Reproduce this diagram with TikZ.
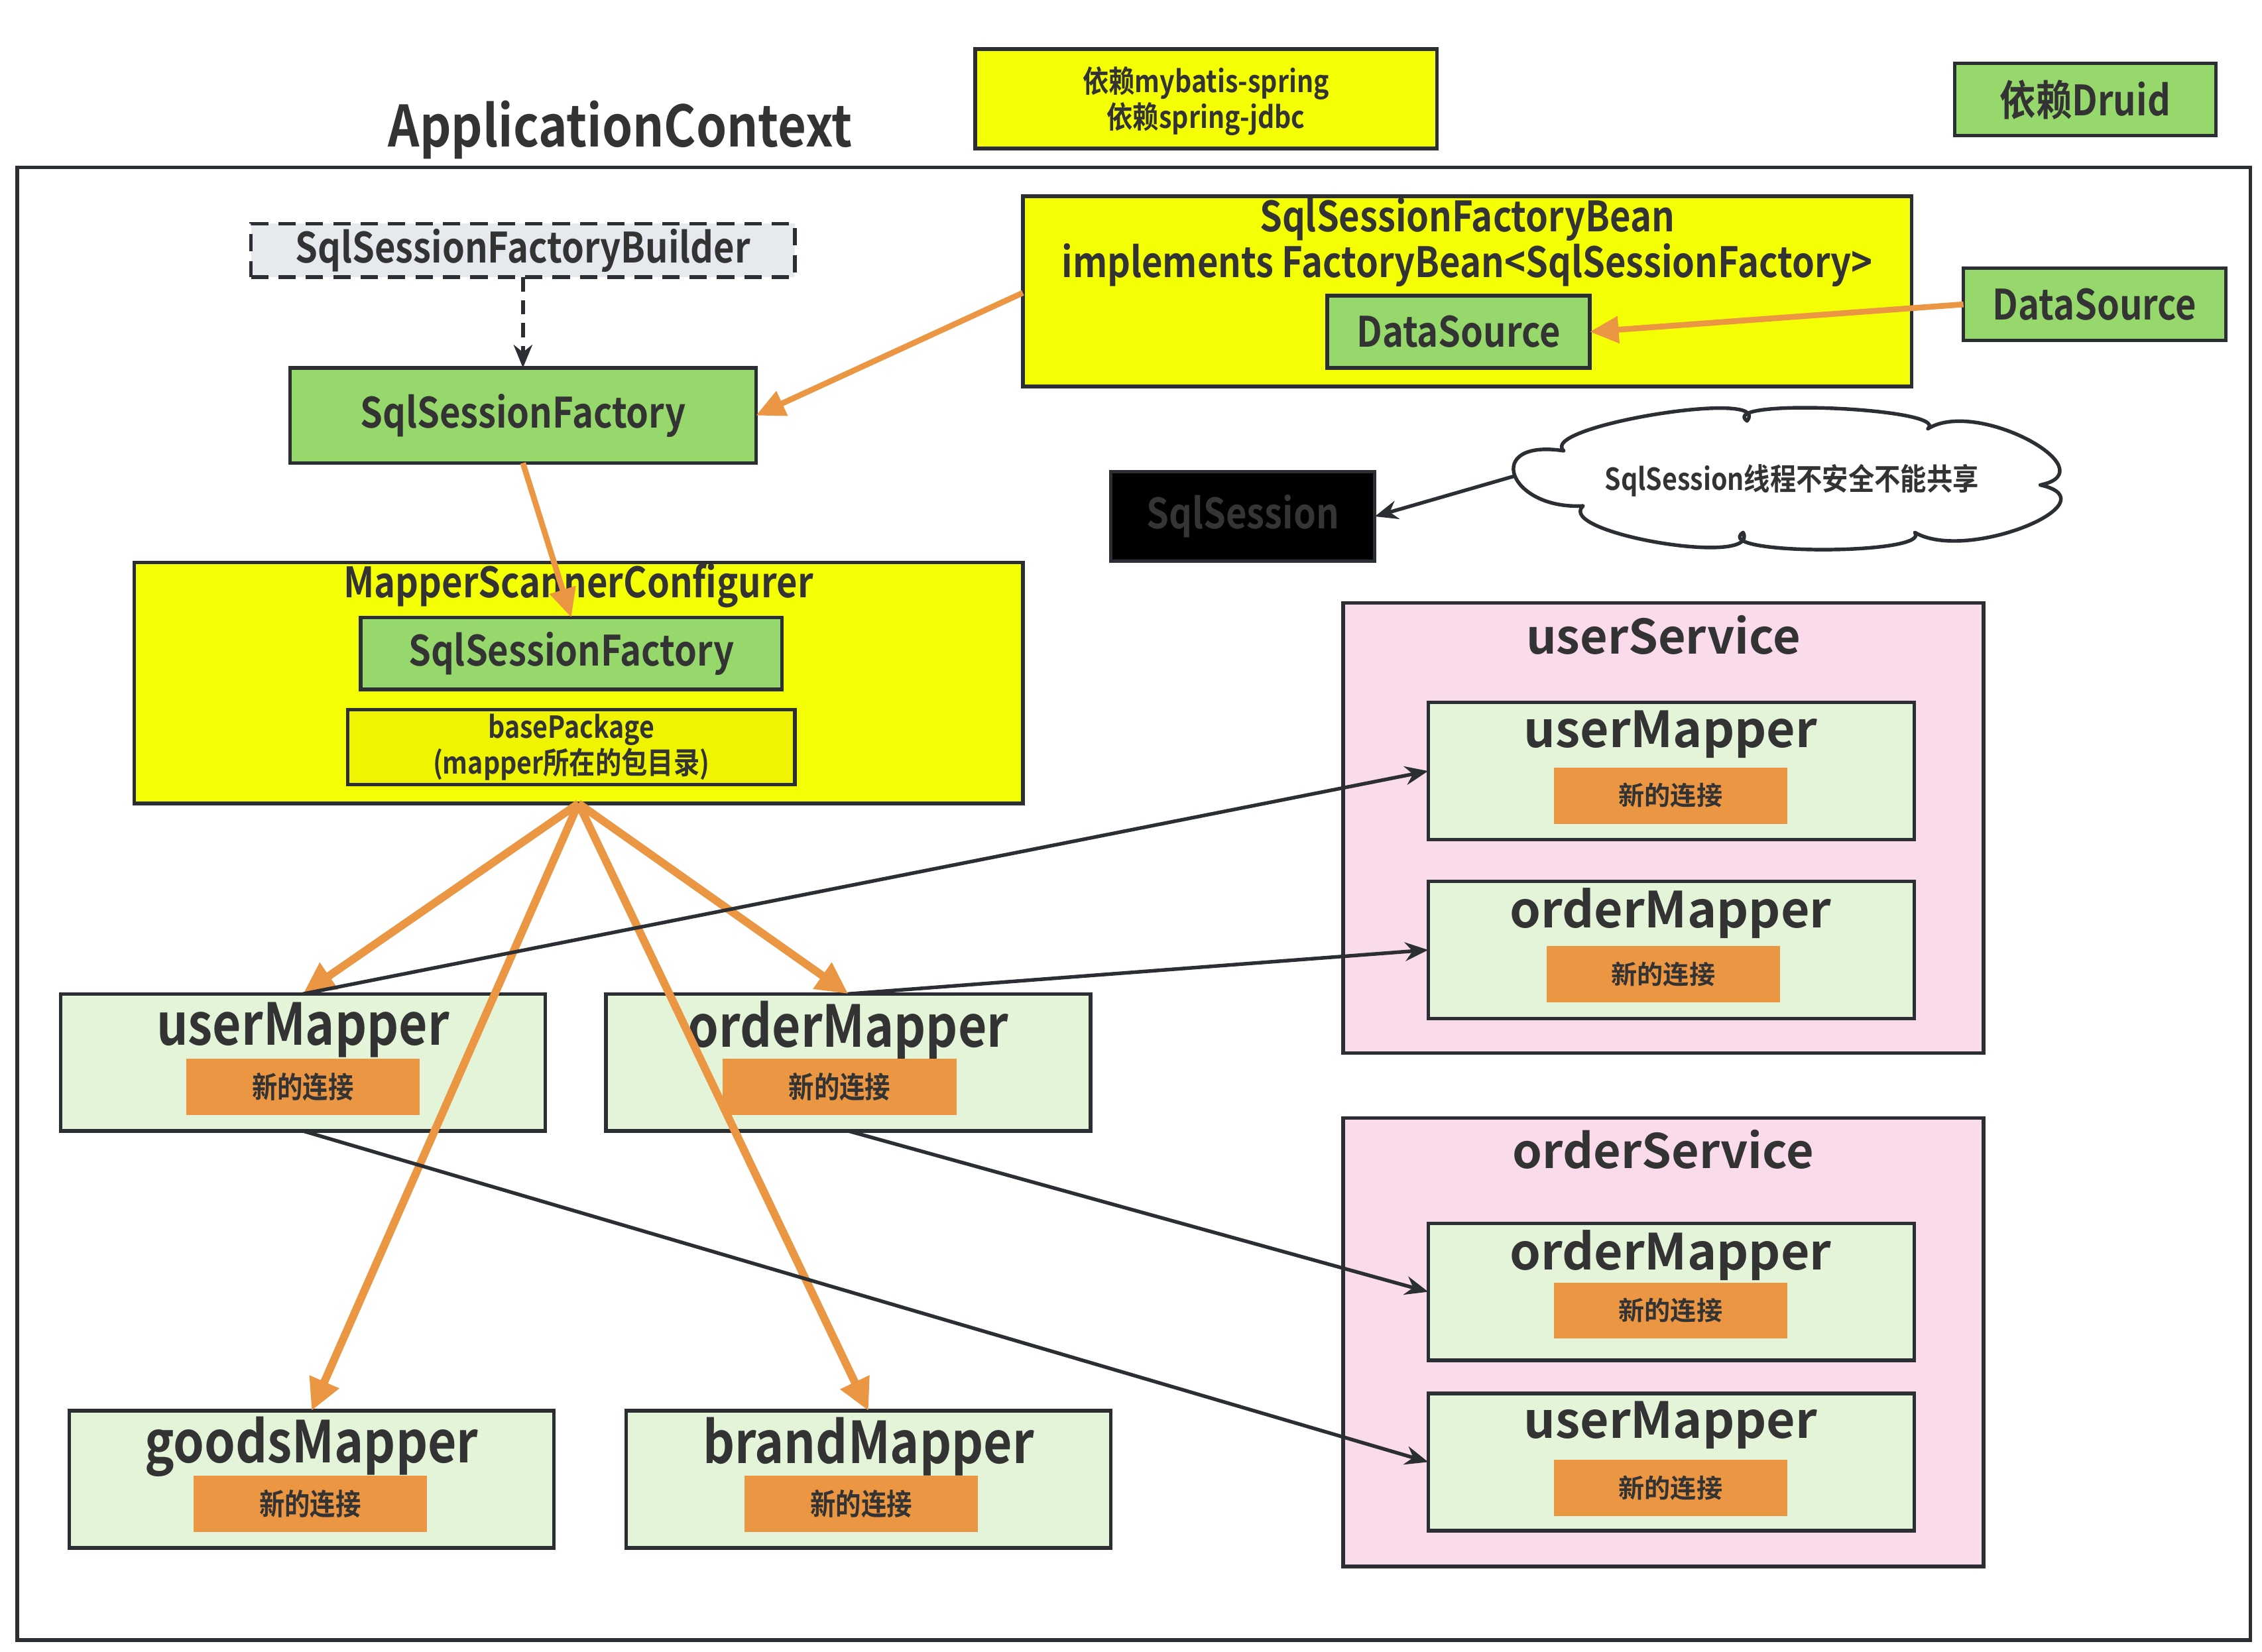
\documentclass[tikz,border=0pt]{standalone}
\usepackage{fontspec}
\setmainfont{Noto Sans CJK SC}[BoldFont={Noto Sans CJK SC Bold}]
\newfontfamily\cnd{Noto Sans CJK SC Bold}[FakeStretch=0.86]
\usetikzlibrary{arrows.meta}
\definecolor{dk}{HTML}{2B2F33}
\definecolor{tx}{HTML}{333333}
\definecolor{sstx}{HTML}{353535}
\definecolor{yl}{HTML}{F4FF05}
\definecolor{yl2}{HTML}{EFF500}
\definecolor{gr}{HTML}{96D86C}
\definecolor{lg}{HTML}{E3F4D9}
\definecolor{og}{HTML}{EB9642}
\definecolor{pk}{HTML}{F9DBEB}
\definecolor{gy}{HTML}{E6E9EE}
\tikzset{
  bx/.style={draw=dk, line width=2.5pt, anchor=north west, inner sep=0pt, outer sep=0pt},
  tt/.style={inner sep=0pt, text=tx},
  oarr/.style={draw=og, line width=5.5pt, -{Triangle[length=22pt,width=21pt]}},
  oarrb/.style={draw=og, line width=4pt, -{Triangle[length=20pt,width=18pt]}},
  darr/.style={draw=dk, line width=2.5pt, -{Stealth[length=16pt,width=13pt]}},
  cloudline/.style={draw=dk, line width=2.5pt, fill=white, line join=round},
}
\newcommand\fsz[1]{\fontsize{#1}{#1}\selectfont}
\begin{document}
\begin{tikzpicture}[x=1pt,y=-1pt]
\useasboundingbox (0,0) rectangle (1568,1145);
% outer frame
\node[bx, minimum width=1548pt, minimum height=1021pt] (ctx) at (12,116) {};
\node[tt, font=\cnd\fsz{39.5}] (ctxt) at (430,90) {ApplicationContext};
% dependencies
\node[bx, fill=yl, minimum width=320pt, minimum height=69pt] (dep) at (676,34) {};
\node[tt, font=\cnd\fsz{21}, align=center] (dept) at (836,70) {依赖mybatis-spring\\[1pt]依赖spring-jdbc};
\node[bx, fill=gr, minimum width=181pt, minimum height=50pt] (druid) at (1355,44) {};
\node[tt, font=\cnd\fsz{29}] (druidt) at (druid.center) {依赖Druid};
% builder
\node[bx, fill=gy, dashed, dash pattern=on 12pt off 7pt, minimum width=377pt, minimum height=37pt] (bld) at (174,155) {};
\node[tt, font=\cnd\fsz{29}] (bldt) at (bld.center) {SqlSessionFactoryBuilder};
% SqlSessionFactory
\node[bx, fill=gr, minimum width=323pt, minimum height=66pt] (ssf) at (201,255) {};
\node[tt, font=\cnd\fsz{29}] (ssft) at (ssf.center) {SqlSessionFactory};
% SqlSessionFactoryBean
\node[bx, fill=yl, minimum width=616pt, minimum height=132pt] (ssfb) at (709,136) {};
\node[tt, font=\cnd\fsz{29}, align=center] (ssfbt) at (1017,168) {SqlSessionFactoryBean\\[1pt]implements FactoryBean<SqlSessionFactory>};
\node[bx, fill=gr, minimum width=182pt, minimum height=50pt] (dsin) at (920,205) {};
\node[tt, font=\cnd\fsz{29}] (dsint) at (dsin.center) {DataSource};
\node[bx, fill=gr, minimum width=182pt, minimum height=50pt] (dsout) at (1361,186) {};
\node[tt, font=\cnd\fsz{29}] (dsoutt) at (dsout.center) {DataSource};
% SqlSession
\node[bx, fill=black, minimum width=183pt, minimum height=62pt] (ss) at (770,327) {};
\node[tt, font=\cnd\fsz{29}, text=sstx] (sst) at (ss.center) {SqlSession};
% cloud
\path[cloudline] (1097.4,350.7)
  .. controls (1045.0,353.5) and (1027.6,303.9) .. (1084,312.5)
  .. controls (1064.95,295.7) and (1230.05,268.8) .. (1211,291.8)
  .. controls (1189.4,275.8) and (1352.4,282.8) .. (1336.4,297.2)
  .. controls (1370.9,275.75) and (1462,326.45) .. (1414.3,336.2)
  .. controls (1466,347.8) and (1363.85,390.5) .. (1327.3,369.1)
  .. controls (1339.85,385) and (1185.15,385) .. (1208.3,369.1)
  .. controls (1221.1,393.8) and (1077,369.4) .. cycle;
\coordinate (clw) at (1049.9,330);
\node[tt, font=\cnd\fsz{21}] (clt) at (1242,333) {SqlSession线程不安全不能共享};
% MapperScannerConfigurer
\node[bx, fill=yl, minimum width=616pt, minimum height=167pt] (msc) at (93,390) {};
\node[tt, font=\cnd\fsz{29}] (msct) at (401,406) {MapperScannerConfigurer};
\node[bx, fill=gr, minimum width=292pt, minimum height=50pt] (ssf2) at (250,428) {};
\node[tt, font=\cnd\fsz{29}] (ssf2t) at (ssf2.center) {SqlSessionFactory};
\node[bx, fill=yl2, minimum width=310pt, minimum height=52pt] (bp) at (241,492) {};
\node[tt, font=\cnd\fsz{21}, align=center] (bpt) at (bp.center) {basePackage\\[1pt](mapper所在的包目录)};
% left mappers
\foreach \n/\x/\y/\ox/\lab in {um1/42/689/129/userMapper, om1/420/689/501/orderMapper, gm/48/978/134/goodsMapper, bm/434/978/516/brandMapper}{
  \node[bx, fill=lg, minimum width=336pt, minimum height=95pt] (\n) at (\x,\y) {};
  \node[tt, font=\cnd\fsz{40}] (\n t) at ([yshift=-25pt]\n.north) {\lab};
  \node[bx, draw=none, fill=og, minimum width=162pt, minimum height=39pt] (\n o) at (\ox,\y+45) {};
  \node[tt, font=\cnd\fsz{20.5}] (\n ot) at (\n o.center) {新的连接};
}
% services
\node[bx, fill=pk, minimum width=444pt, minimum height=312pt] (us) at (931,418) {};
\node[tt, font=\bfseries\fsz{33}] (ust) at (1153,440) {userService};
\node[bx, fill=pk, minimum width=444pt, minimum height=311pt] (os) at (931,775) {};
\node[tt, font=\bfseries\fsz{33}] (ost) at (1153,797) {orderService};
\foreach \n/\y/\ox/\oy/\lab in {usum/487/1077/532/userMapper, usom/611/1072/656/orderMapper, osom/848/1077/889/orderMapper, osum/966/1077/1012/userMapper}{
  \node[bx, fill=lg, minimum width=337pt, minimum height=95pt] (\n) at (990,\y) {};
  \node[tt, font=\bfseries\fsz{34.5}] (\n t) at (1158,\y+22) {\lab};
  \node[bx, draw=none, fill=og, minimum width=162pt, minimum height=39pt] (\n o) at (\ox,\oy) {};
  \node[tt, font=\bfseries\fsz{18}] (\n ot) at (\n o.center) {新的连接};
}
% connectors
\draw[darr, dashed, dash pattern=on 10pt off 6pt] (bld.south) -- (ssf.north);
\draw[oarrb] (ssfb.west |- 0,203) -- (ssf.east);
\draw[oarrb] (dsout.west) -- (dsin.east);
\draw[darr] (clw) -- (ss.east);
\draw[oarrb] (ssf.south) -- (ssf2.north);
\coordinate (src) at (msc.south);
\draw[oarr] (src) -- (um1.north);
\draw[oarr] (src) -- (om1.north);
\draw[oarr] (src) -- (gm.north);
\draw[oarr] (src) -- (bm.north);
\draw[darr] (um1.north) -- (usum.west);
\draw[darr] (om1.north) -- (usom.west);
\draw[darr] (um1.south) -- (osum.west);
\draw[darr] (om1.south) -- (osom.west);
\end{tikzpicture}
\end{document}
